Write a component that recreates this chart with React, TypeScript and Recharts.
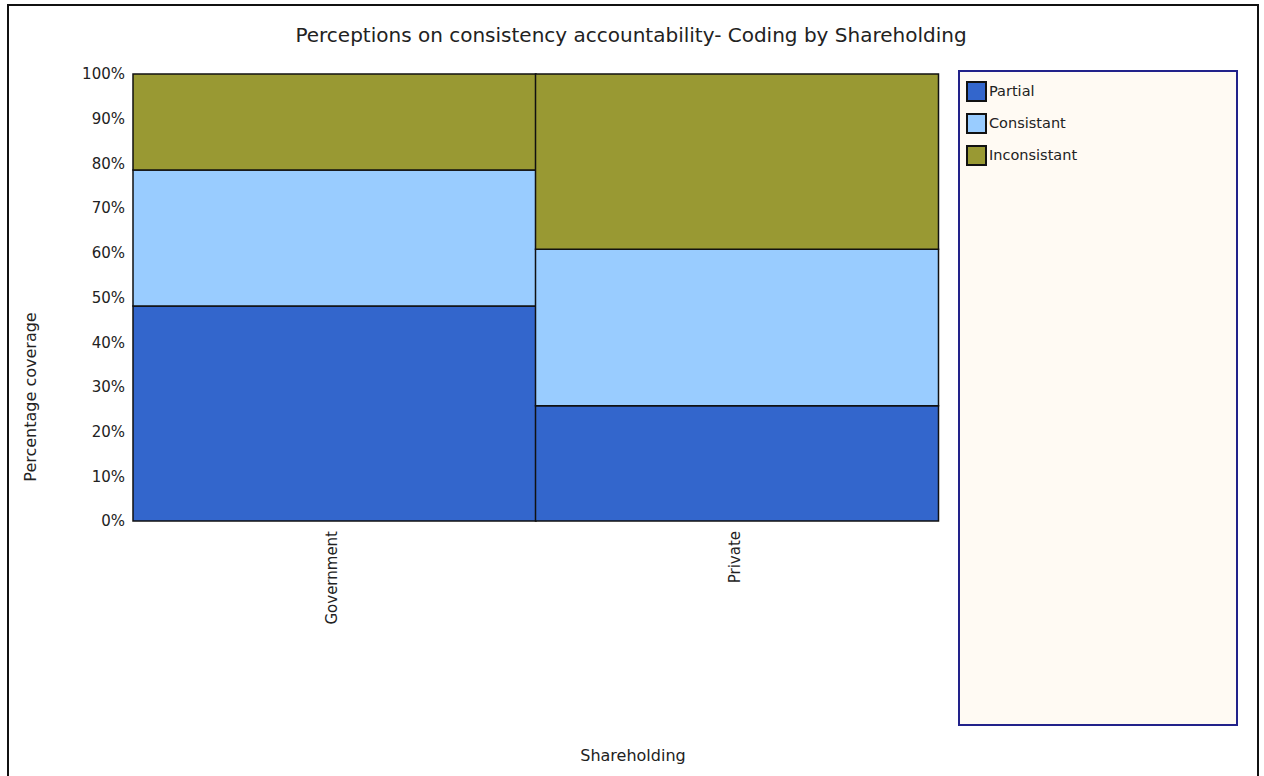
import { BarChart, Bar, XAxis, YAxis, Legend, Label } from "recharts";

const categories = ["Government", "Private"];
const partial = [48.1, 25.8];
const consistant = [30.4, 35.0];
const inconsistant = [21.5, 39.2];
const yTicks = [0, 10, 20, 30, 40, 50, 60, 70, 80, 90, 100];

const seriesInfo = [
  { key: "Partial", color: "#3366CC" },
  { key: "Consistant", color: "#99CCFF" },
  { key: "Inconsistant", color: "#999933" },
];

const data = categories.map((name, i) => ({
  name,
  Partial: partial[i],
  Consistant: consistant[i],
  Inconsistant: inconsistant[i],
}));

const font = "'DejaVu Sans', Verdana, sans-serif";

function XTick(props: any) {
  const { x, y, payload } = props;
  return (
    <g transform={`translate(${x},${y})`}>
      <text
        x={0}
        y={0}
        dy={3}
        dx={-2}
        textAnchor="end"
        transform="rotate(-90)"
        fontSize={15}
        fontFamily={font}
        fill="#222"
      >
        {payload.value}
      </text>
    </g>
  );
}

function LegendBox() {
  return (
    <div
      style={{
        width: 280,
        height: 656,
        border: "2px solid #22228a",
        background: "#FFFAF3",
        fontFamily: font,
        fontSize: 14.5,
        color: "#222",
        paddingTop: 3,
        boxSizing: "border-box",
      }}
    >
      {seriesInfo.map((s) => (
        <div key={s.key} style={{ display: "flex", alignItems: "center", height: 32, marginLeft: 6 }}>
          <span
            style={{
              display: "inline-block",
              width: 21,
              height: 21,
              background: s.color,
              border: "2px solid #111",
              boxSizing: "border-box",
              marginRight: 2,
            }}
          />
          <span>{s.key}</span>
        </div>
      ))}
    </div>
  );
}

export default function App() {
  return (
    <div style={{ position: "fixed", left: 0, top: 0, width: 1264, height: 776, background: "#fff" }}>
      <div
        style={{
          position: "absolute",
          left: 7,
          top: 4,
          width: 1248,
          height: 800,
          border: "2px solid #111",
        }}
      />
      <BarChart
        width={1264}
        height={776}
        data={data}
        margin={{ top: 74, right: 326, bottom: 155, left: 73 }}
        barCategoryGap={0}
        barGap={0}
        style={{ position: "absolute", left: 0, top: 0 }}
      >
        <text
          x={631}
          y={42}
          textAnchor="middle"
          fontSize={20}
          fontFamily={font}
          fill="#222"
        >
          Perceptions on consistency accountability- Coding by Shareholding
        </text>
        <XAxis
          dataKey="name"
          axisLine={false}
          tickLine={false}
          height={100}
          interval={0}
          tick={<XTick />}
        >
          <Label
            value="Shareholding"
            content={() => (
              <text x={633} y={761} textAnchor="middle" fontSize={16} fontFamily={font} fill="#222">
                Shareholding
              </text>
            )}
          />
        </XAxis>
        <YAxis
          width={60}
          domain={[0, 100]}
          ticks={yTicks}
          interval={0}
          axisLine={false}
          tickLine={false}
          tickFormatter={(v: number) => `${v}%`}
          tick={{ fontSize: 15, fontFamily: font, fill: "#222" }}
        >
          <Label
            value="Percentage coverage"
            content={() => (
              <text
                x={36}
                y={397}
                textAnchor="middle"
                transform="rotate(-90 36 397)"
                fontSize={16}
                fontFamily={font}
                fill="#222"
              >
                Percentage coverage
              </text>
            )}
          />
        </YAxis>
        <Legend
          layout="vertical"
          align="center"
          verticalAlign="middle"
          content={() => <LegendBox />}
          wrapperStyle={{ left: 958, top: 70, width: 280, height: 656 }}
        />
        {seriesInfo.map((s) => (
          <Bar
            key={s.key}
            dataKey={s.key}
            stackId="a"
            fill={s.color}
            stroke="#111"
            strokeWidth={1.5}
            isAnimationActive={false}
          />
        ))}
      </BarChart>
    </div>
  );
}
